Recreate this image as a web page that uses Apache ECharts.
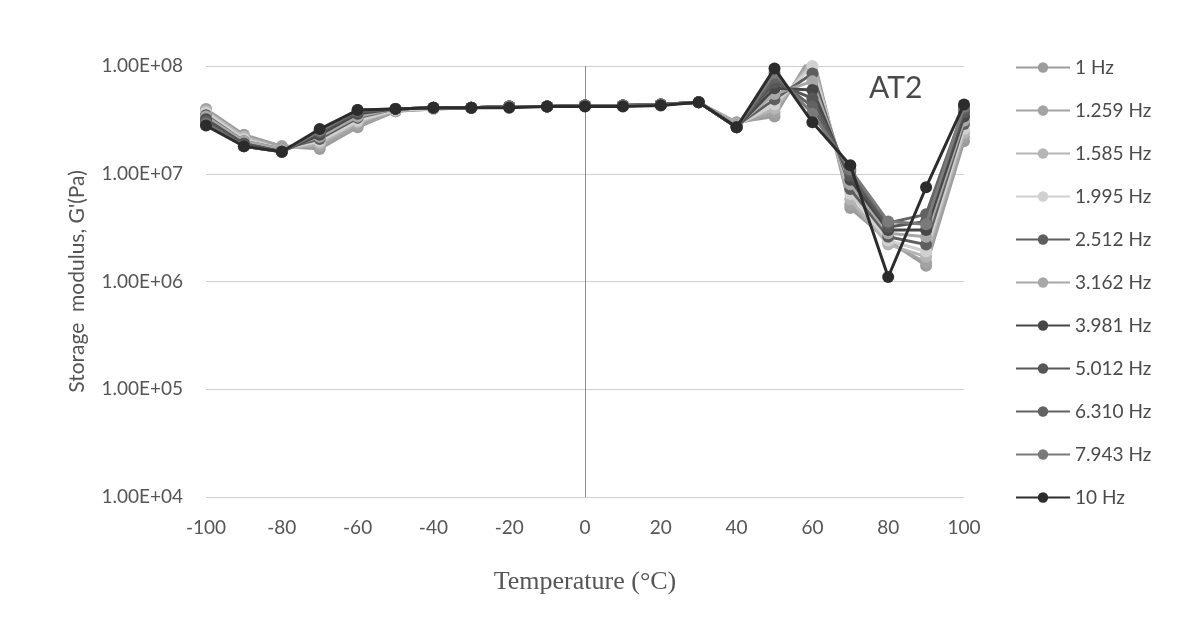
<!DOCTYPE html>
<html>
<head>
<meta charset="utf-8">
<script src="https://cdn.jsdelivr.net/npm/echarts@6/dist/echarts.min.js"></script>
<style>
html,body{margin:0;padding:0;background:#fff;}
#chart{width:1202px;height:633px;}
</style>
</head>
<body>
<div id="chart"></div>
<script>
const temperatures = [-100,-90,-80,-70,-60,-50,-40,-30,-20,-10,0,10,20,30,40,50,60,70,80,90,100];
const seriesNames = ['1 Hz','1.259 Hz','1.585 Hz','1.995 Hz','2.512 Hz','3.162 Hz','3.981 Hz','5.012 Hz','6.310 Hz','7.943 Hz','10 Hz'];
const seriesColors = ['#9c9c9c','#a3a3a3','#b5b5b5','#d0d0d0','#5e5e5e','#a8a8a8','#474747','#575757','#626262','#7a7a7a','#2c2c2c'];

const g_1Hz    = [4.0e7,2.3e7,1.8e7,1.7e7,2.7e7,3.8e7,4.0e7,4.1e7,4.2e7,4.2e7,4.3e7,4.3e7,4.4e7,4.6e7,3.0e7,3.4e7,1.3e8,4.8e6,2.4e6,1.4e6,2.0e7];
const g_1_259Hz= [3.9e7,2.2e7,1.8e7,1.8e7,2.8e7,3.8e7,4.0e7,4.1e7,4.2e7,4.2e7,4.3e7,4.3e7,4.4e7,4.6e7,2.9e7,3.7e7,1.2e8,5.2e6,2.3e6,1.5e6,2.2e7];
const g_1_585Hz= [3.8e7,2.2e7,1.7e7,1.9e7,3.0e7,3.9e7,4.0e7,4.1e7,4.2e7,4.2e7,4.3e7,4.3e7,4.4e7,4.6e7,2.9e7,4.0e7,1.1e8,5.8e6,2.2e6,1.7e6,2.4e7];
const g_1_995Hz= [3.7e7,2.1e7,1.7e7,2.0e7,3.1e7,3.9e7,4.0e7,4.1e7,4.2e7,4.2e7,4.3e7,4.3e7,4.4e7,4.6e7,2.8e7,4.4e7,1.0e8,6.5e6,2.4e6,1.9e6,2.6e7];
const g_2_512Hz= [3.5e7,2.0e7,1.7e7,2.1e7,3.3e7,4.0e7,4.1e7,4.1e7,4.2e7,4.2e7,4.3e7,4.3e7,4.4e7,4.6e7,2.8e7,4.9e7,8.5e7,7.2e6,2.6e6,2.2e6,2.9e7];
const g_3_162Hz= [3.4e7,2.0e7,1.7e7,2.2e7,3.4e7,4.0e7,4.1e7,4.1e7,4.2e7,4.2e7,4.3e7,4.3e7,4.4e7,4.6e7,2.8e7,5.5e7,7.2e7,8.0e6,2.8e6,2.6e6,3.1e7];
const g_3_981Hz= [3.2e7,1.9e7,1.6e7,2.3e7,3.6e7,4.0e7,4.1e7,4.1e7,4.2e7,4.2e7,4.3e7,4.3e7,4.4e7,4.6e7,2.7e7,6.2e7,6.0e7,8.8e6,3.0e6,3.0e6,3.4e7];
const g_5_012Hz= [3.1e7,1.9e7,1.6e7,2.4e7,3.7e7,4.0e7,4.1e7,4.1e7,4.2e7,4.2e7,4.3e7,4.3e7,4.4e7,4.6e7,2.7e7,7.0e7,5.0e7,9.6e6,3.2e6,3.6e6,3.7e7];
const g_6_310Hz= [3.0e7,1.8e7,1.6e7,2.5e7,3.8e7,4.0e7,4.1e7,4.1e7,4.2e7,4.2e7,4.3e7,4.3e7,4.4e7,4.6e7,2.7e7,7.8e7,4.2e7,1.05e7,3.5e6,4.2e6,4.0e7];
const g_7_943Hz= [2.9e7,1.8e7,1.6e7,2.5e7,3.9e7,4.0e7,4.1e7,4.1e7,4.2e7,4.2e7,4.3e7,4.3e7,4.4e7,4.6e7,2.7e7,8.6e7,3.6e7,1.1e7,3.6e6,3.4e6,4.2e7];
const g_10Hz   = [2.8e7,1.8e7,1.6e7,2.6e7,3.9e7,4.0e7,4.1e7,4.1e7,4.1e7,4.2e7,4.2e7,4.2e7,4.3e7,4.6e7,2.7e7,9.5e7,3.0e7,1.2e7,1.1e6,7.5e6,4.4e7];

const seriesValues = [g_1Hz,g_1_259Hz,g_1_585Hz,g_1_995Hz,g_2_512Hz,g_3_162Hz,g_3_981Hz,g_5_012Hz,g_6_310Hz,g_7_943Hz,g_10Hz];
const yTickLabels = ['1.00E+04','1.00E+05','1.00E+06','1.00E+07','1.00E+08'];
const xTickLabels = ['-100','-80','-60','-40','-20','0','20','40','60','80','100'];

const chart = echarts.init(document.getElementById('chart'));

const series = seriesNames.map((name, i) => ({
  name: name,
  type: 'line',
  data: temperatures.map((t, j) => [t, seriesValues[i][j]]),
  symbol: 'circle',
  symbolSize: 12,
  lineStyle: {width: 3, color: seriesColors[i]},
  itemStyle: {color: seriesColors[i]},
  emphasis: {disabled: true},
  z: 2 + i
}));

series[0].markLine = {
  silent: true,
  symbol: 'none',
  label: {show: false},
  lineStyle: {color: '#8f8f8f', type: 'solid', width: 1},
  data: [{xAxis: 0}],
  z: 1
};

chart.setOption({
  animation: false,
  backgroundColor: '#ffffff',
  title: {
    text: 'AT2',
    left: 864,
    top: 68,
    textStyle: {fontFamily: 'Lato', fontSize: 30, fontWeight: 'normal', color: '#4a4a4a'}
  },
  grid: {left: 206, right: 238, top: 66, bottom: 136},
  legend: {
    orient: 'vertical',
    left: 1010,
    top: 53,
    itemGap: 24,
    itemWidth: 54,
    itemHeight: 13,
    textStyle: {fontFamily: 'Lato', fontSize: 19, color: '#4a4a4a'},
    data: seriesNames
  },
  xAxis: {
    type: 'value',
    min: -100,
    max: 100,
    interval: 20,
    name: 'Temperature (°C)',
    nameLocation: 'middle',
    nameGap: 72,
    nameTextStyle: {fontFamily: 'Liberation Serif', fontSize: 26, color: '#555'},
    axisLine: {show: false},
    axisTick: {show: false},
    splitLine: {show: false},
    axisLabel: {
      margin: 21,
      fontFamily: 'Lato',
      fontSize: 19,
      color: '#555',
      formatter: v => xTickLabels[Math.round((v + 100) / 20)]
    }
  },
  yAxis: {
    type: 'log',
    logBase: 10,
    min: 1e4,
    max: 1e8,
    name: "Storage  modulus, G'(Pa)",
    nameLocation: 'middle',
    nameGap: 118,
    nameTextStyle: {fontFamily: 'Lato', fontSize: 21, color: '#555'},
    axisLine: {show: false},
    axisTick: {show: false},
    splitLine: {show: true, lineStyle: {color: '#cfcfcf', width: 1}},
    axisLabel: {
      margin: 23,
      fontFamily: 'Lato',
      fontSize: 19,
      color: '#555',
      formatter: v => yTickLabels[Math.round(Math.log10(v)) - 4]
    }
  },
  series: series
});
</script>
</body>
</html>
